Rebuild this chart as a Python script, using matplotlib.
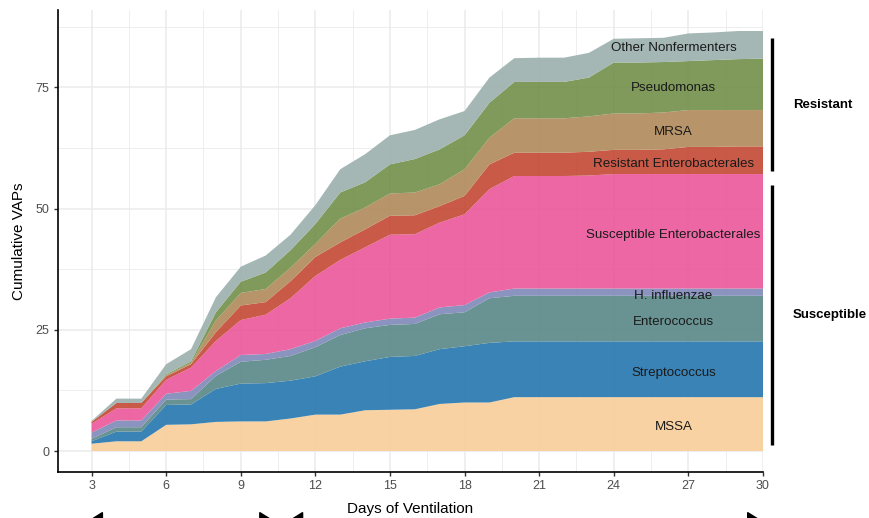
import numpy as np
import matplotlib
matplotlib.use("Agg")
import matplotlib.pyplot as plt
from matplotlib.ticker import MultipleLocator
import matplotlib.transforms as mtransforms

plt.rcParams['font.family'] = ['Liberation Sans', 'DejaVu Sans']

days = list(range(3, 31))

organisms = ["MSSA", "Streptococcus", "Enterococcus", "H. influenzae",
             "Susceptible Enterobacterales", "Resistant Enterobacterales",
             "MRSA", "Pseudomonas", "Other Nonfermenters"]

mssa = [1.5, 2.0, 2.0, 5.4, 5.5, 6.0, 6.1, 6.1, 6.7, 7.5, 7.5, 8.4, 8.5, 8.6,
        9.7, 10.0, 10.0, 11.1, 11.1, 11.1, 11.1, 11.1, 11.1, 11.1, 11.1, 11.1, 11.1, 11.1]
strep = [0.5, 2.0, 2.0, 4.1, 4.1, 6.8, 7.8, 7.9, 7.8, 7.9, 9.9, 10.1, 10.9, 11.0,
         11.3, 11.6, 12.3, 11.5, 11.5, 11.5, 11.5, 11.5, 11.5, 11.5, 11.5, 11.5, 11.5, 11.5]
entero = [0.5, 0.9, 0.9, 1.1, 1.1, 2.7, 4.5, 4.8, 5.1, 6.0, 6.5, 6.8, 6.6, 6.6,
          7.2, 7.0, 9.2, 9.4, 9.4, 9.4, 9.4, 9.4, 9.4, 9.4, 9.4, 9.4, 9.4, 9.4]
hflu = [1.3, 1.4, 1.4, 1.2, 1.7, 1.0, 1.4, 1.2, 1.4, 1.3, 1.4, 1.2, 1.3, 1.3,
        1.4, 1.5, 1.2, 1.5, 1.5, 1.5, 1.5, 1.5, 1.5, 1.5, 1.5, 1.5, 1.5, 1.5]
susc_ent = [1.8, 2.5, 2.5, 2.9, 4.8, 6.2, 7.2, 8.1, 10.5, 13.4, 14.1, 15.5, 17.3, 17.2,
            17.5, 18.7, 21.3, 23.2, 23.2, 23.2, 23.3, 23.6, 23.6, 23.6, 23.6, 23.6, 23.6, 23.6]
res_ent = [0.4, 1.1, 1.1, 0.7, 0.7, 1.8, 3.0, 2.6, 3.5, 3.9, 3.6, 3.7, 3.9, 3.9,
           3.4, 3.8, 5.1, 4.8, 4.8, 4.8, 4.9, 5.0, 5.0, 5.1, 5.6, 5.6, 5.7, 5.7]
mrsa = [0.0, 0.0, 0.0, 0.2, 0.3, 2.4, 2.6, 2.7, 2.8, 2.7, 4.9, 4.5, 4.6, 4.7,
        4.5, 5.5, 5.5, 7.1, 7.1, 7.1, 7.3, 7.5, 7.5, 7.6, 7.6, 7.6, 7.5, 7.5]
pseudo = [0.0, 0.0, 0.0, 0.2, 0.3, 1.7, 2.3, 3.4, 3.6, 4.1, 5.4, 5.2, 6.0, 6.9,
          7.2, 7.0, 7.2, 7.5, 7.5, 7.5, 8.0, 10.5, 10.5, 10.4, 10.1, 10.3, 10.5, 10.6]
other = [0.2, 0.9, 0.9, 2.1, 2.5, 3.1, 3.1, 3.5, 3.2, 3.9, 4.8, 5.8, 6.0, 6.0,
         6.2, 5.0, 5.2, 4.9, 5.0, 5.0, 5.1, 4.9, 5.0, 5.0, 5.7, 5.7, 5.8, 5.7]

series = [mssa, strep, entero, hflu, susc_ent, res_ent, mrsa, pseudo, other]

colors = ["#F8CE99", "#2476AE", "#598786", "#7F89B8", "#EC569B",
          "#C34833", "#B08959", "#718F49", "#9BB0AD"]

group_labels = ["Resistant", "Susceptible"]
x_ticks = [3, 6, 9, 12, 15, 18, 21, 24, 27, 30]
y_ticks = [0, 25, 50, 75]

fig = plt.figure(figsize=(8.69, 5.18), dpi=100)
ax = fig.add_axes([58 / 869, 1 - 472 / 518, (763 - 58) / 869, (472 - 10) / 518])

ax.stackplot(days, *series, colors=colors, alpha=0.9, linewidth=0, zorder=2)

totals = np.sum(np.array(series), axis=0)
ymax = totals.max()
ax.set_xlim(days[0] - 0.05 * (days[-1] - days[0]), days[-1])
ax.set_ylim(-0.05 * ymax, ymax * 1.05)

ax.set_xticks(x_ticks)
ax.set_yticks(y_ticks)
ax.xaxis.set_minor_locator(MultipleLocator(1.5))
ax.yaxis.set_minor_locator(MultipleLocator(12.5))
ax.grid(which='major', color='#EBEBEB', linewidth=1.1, zorder=0)
ax.grid(which='minor', color='#EBEBEB', linewidth=0.6, zorder=0)
ax.set_axisbelow(True)
ax.tick_params(which='minor', length=0)
ax.tick_params(which='major', length=3, width=1.0, color='#333333',
               labelsize=9, labelcolor='#4D4D4D', pad=3)

for s in ['top', 'right']:
    ax.spines[s].set_visible(False)
for s in ['left', 'bottom']:
    ax.spines[s].set_linewidth(1.2)
    ax.spines[s].set_color('black')

ax.set_xlabel("Days of Ventilation", fontsize=11, labelpad=7)
ax.set_ylabel("Cumulative VAPs", fontsize=11, labelpad=7)

# labels in the middle of each final layer
final = np.array([s[-1] for s in series])
tops = np.cumsum(final)
bottoms = tops - final
label_x = 26.4
for name, b, t in zip(organisms, bottoms, tops):
    ax.text(label_x, (b + t) / 2 - 0.7, name, ha='center', va='center',
            fontsize=9.6, color='#1A1A1A', zorder=5)

# brackets on the right
bx = 30.36
res_lo, res_hi = 57.7, 85.1
sus_lo, sus_hi = 1.2, 54.9
ax.plot([bx, bx], [res_lo, res_hi], color='black', lw=2.4, clip_on=False,
        solid_capstyle='butt')
ax.plot([bx, bx], [sus_lo, sus_hi], color='black', lw=2.4, clip_on=False,
        solid_capstyle='butt')
ax.text(31.2, (res_lo + res_hi) / 2, group_labels[0], fontsize=9.5,
        fontweight='bold', ha='left', va='center', clip_on=False)
ax.text(31.2, (sus_lo + sus_hi) / 2, group_labels[1], fontsize=9.5,
        fontweight='bold', ha='left', va='center', clip_on=False)

# clipped arrows at the very bottom
trans = mtransforms.blended_transform_factory(ax.transData, fig.transFigure)
arrow_y = -1.8 / 518
for x0, x1 in [(2.92, 10.28), (10.97, 29.9)]:
    ax.annotate('', xy=(x0, arrow_y), xytext=(x1, arrow_y),
                xycoords=trans, textcoords=trans,
                arrowprops=dict(arrowstyle='<|-|>,head_length=0.8,head_width=0.5',
                                color='black', lw=1.2, mutation_scale=10,
                                shrinkA=0, shrinkB=0),
                annotation_clip=False)

fig.savefig("out.png", dpi=100)
